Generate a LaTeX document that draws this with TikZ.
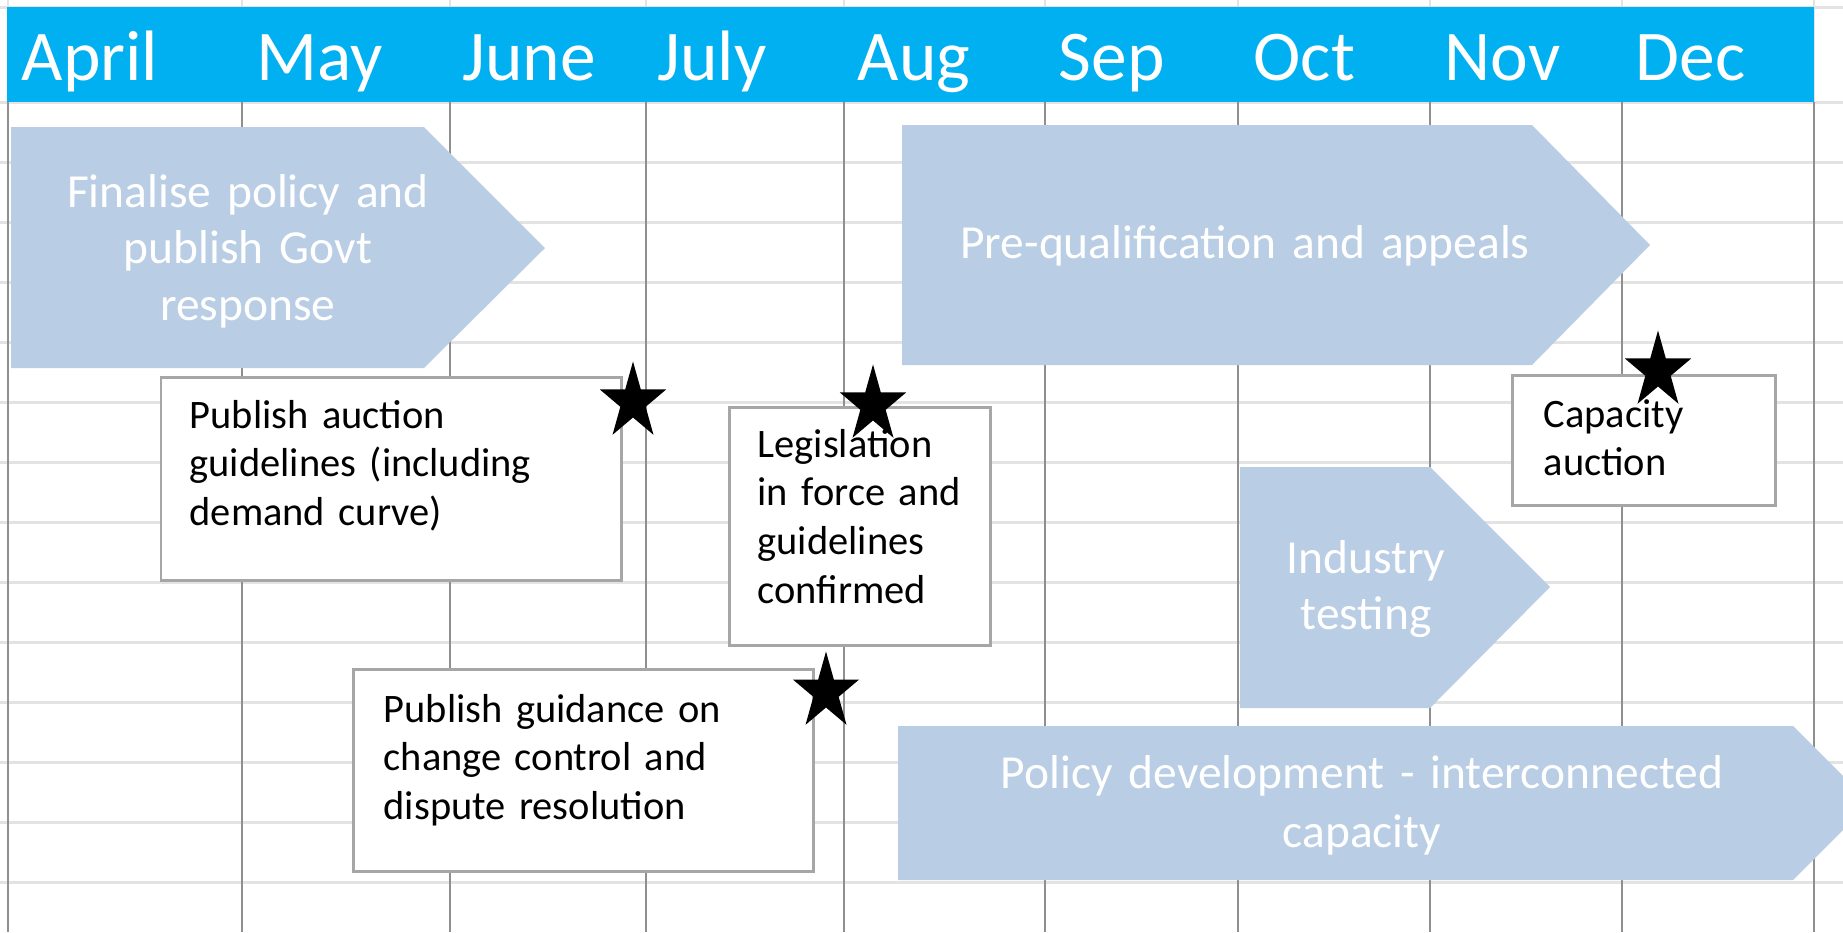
\documentclass[tikz,border=0pt]{standalone}
\usepackage{fontspec}
\setmainfont{Carlito}
\usetikzlibrary{shapes}
\definecolor{headcyan}{HTML}{00B0F0}
\definecolor{stageblue}{HTML}{B9CDE5}
\definecolor{gridlight}{HTML}{E3E3E3}
\definecolor{griddark}{HTML}{8F8F8F}
\definecolor{boxline}{HTML}{A6A6A6}

\begin{document}
\begin{tikzpicture}[x=0.01cm,y=-0.01cm,
  month/.style={anchor=base west,text=white,inner sep=0pt,font=\fontsize{20.3}{24}\selectfont},
  stage/.style={fill=stageblue},
  stagetext/.style={anchor=base,text=white,align=center,text width=8cm,inner sep=0pt,font=\fontsize{13.5}{16.2}\selectfont},
  taskbox/.style={draw=boxline,fill=white,line width=0.85pt},
  tasktext/.style={anchor=base west,align=left,text width=4cm,inner sep=0pt,font=\fontsize{11.5}{13.9}\selectfont},
  milestone/.style={star,star points=5,star point ratio=2.618,fill=black,inner sep=0pt,minimum size=0.81cm,xscale=0.86}]
\useasboundingbox (0,0) rectangle (1843,932);
\clip (0,0) rectangle (1843,932);

% sheet grid
\foreach \y in {7,102,162,...,882}
  \draw[gridlight,line width=0.85pt] (0,\y) -- (1843,\y);
\foreach \x in {8,242,450,646,844,1045,1238,1430,1622,1814} {
  \draw[gridlight,line width=0.6pt] (\x,0) -- (\x,102);
  \draw[griddark,line width=0.5pt] (\x,102) -- (\x,932);
}

% month header
\fill[headcyan] (7,7) rectangle (1814,102);
\path node[month] (apr) at (21,80) {April}
      node[month] (may) at (256,80) {May}
      node[month] (jun) at (462,80) {June}
      node[month] (jul) at (657,80) {July}
      node[month] (aug) at (857,80) {Aug}
      node[month] (sep) at (1058,80) {Sep}
      node[month] (oct) at (1253,80) {Oct}
      node[month] (nov) at (1444,80) {Nov}
      node[month] (dec) at (1635,80) {Dec};

% stages
\fill[stage] (11,127) -- (424,127) -- (545,248) -- (424,368) -- (11,368) -- cycle;
\fill[stage] (902,125) -- (1532,125) -- (1650,245) -- (1532,365) -- (902,365) -- cycle;
\fill[stage] (1240,467) -- (1430,467) -- (1550,587) -- (1430,708) -- (1240,708) -- cycle;
\fill[stage] (898,726) -- (1793,726) -- (1870,803) -- (1793,880) -- (898,880) -- cycle;
\path node[stagetext] (policy) at (248,207) {Finalise policy and\\publish Govt\\response}
      node[stagetext] (prequal) at (1245,258) {Pre-qualification and appeals}
      node[stagetext] (testing) at (1366,573) {Industry\\testing}
      node[stagetext,font=\fontsize{13.5}{16.8}\selectfont] (interconn) at (1362,788) {Policy development - interconnected\\capacity};

% tasks
\draw[taskbox] (161,377) rectangle (621,580);
\draw[taskbox] (729,407) rectangle (990,645);
\draw[taskbox] (353,669) rectangle (813,871);
\draw[taskbox] (1512,375) rectangle (1775,505);
\path node[tasktext] (guidelines) at (189,428) {Publish auction\\guidelines (including\\demand curve)}
      node[tasktext] (legislation) at (757,457) {Legislation\\in force and\\guidelines\\confirmed}
      node[tasktext] (guidance) at (383,722) {Publish guidance on\\change control and\\dispute resolution}
      node[tasktext] (auction) at (1543,427) {Capacity\\auction};

% milestones
\path node[milestone] (m1) at (633,402) {}
      node[milestone] (m2) at (873,405) {}
      node[milestone] (m3) at (1658,371) {}
      node[milestone] (m4) at (826,692) {};
\end{tikzpicture}
\end{document}
